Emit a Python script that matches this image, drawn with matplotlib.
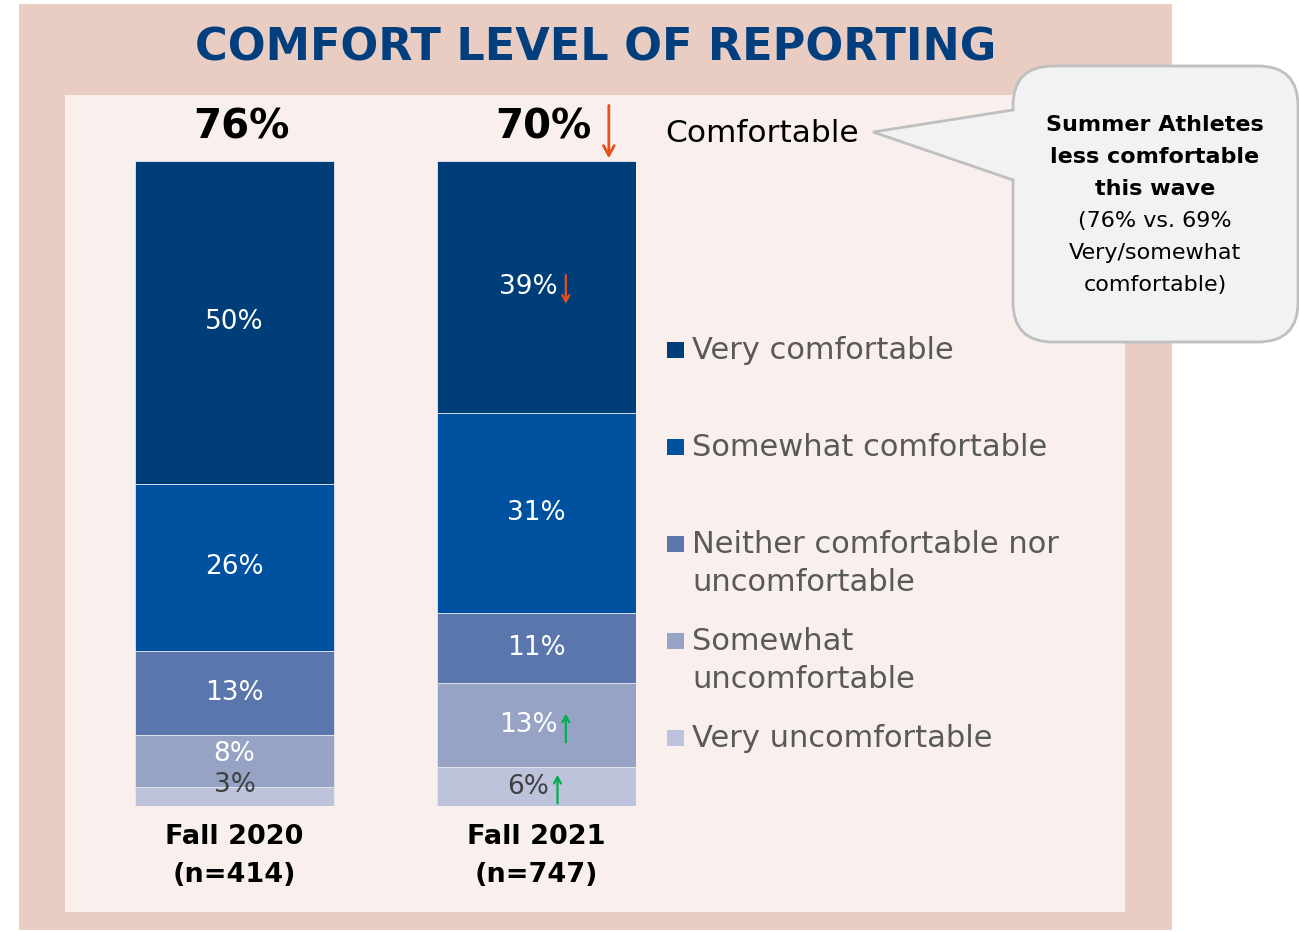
import numpy as np
import matplotlib.pyplot as plt
from matplotlib.patches import Rectangle, FancyBboxPatch, Polygon

# data
groups = ["Fall 2020\n(n=414)", "Fall 2021\n(n=747)"]
levels = ["Very comfortable", "Somewhat comfortable",
          "Neither comfortable nor\nuncomfortable",
          "Somewhat\nuncomfortable", "Very uncomfortable"]
very_comf = [50, 39]
some_comf = [26, 31]
neither = [13, 11]
some_uncomf = [8, 13]
very_uncomf = [3, 6]
comfortable_total = ["76%", "70%"]
# change markers per segment: 0 none, -1 down, 1 up (Fall 2021 only)
change_2021 = [-1, 0, 0, 1, 1]
total_change = [0, -1]

colors = ["#003E79", "#0051A0", "#5A76AC", "#96A3C5", "#BCC3DA"]
label_colors = ["white", "white", "white", "white", "#404040"]
down_col = "#E8501A"
up_col = "#00B050"

W, H = 1299, 932
fig = plt.figure(figsize=(W / 100, H / 100), dpi=100)
fig.patch.set_facecolor("white")

# background / decoration axes in pixel coords
bg = fig.add_axes([0, 0, 1, 1])
bg.set_xlim(0, W)
bg.set_ylim(H, 0)
bg.axis("off")
bg.add_patch(Rectangle((19, 4), 1153, 926, facecolor="#E9CCC2", edgecolor="none"))
bg.add_patch(Rectangle((65, 95), 1060, 817, facecolor="#F9F0ED", edgecolor="none"))
bg.text(596, 48, "COMFORT LEVEL OF REPORTING", ha="center", va="center",
        fontsize=32, fontweight="bold", color="#003E7E")

# callout
bg.add_patch(FancyBboxPatch((1013 + 40, 66 + 40), 285 - 80, 276 - 80,
                            boxstyle="round,pad=40", facecolor="#F2F2F2",
                            edgecolor="#BFBFBF", linewidth=2))
bg.add_patch(Polygon([(1016, 110), (873, 132), (1016, 180)], closed=True,
                     facecolor="#F2F2F2", edgecolor="none"))
bg.plot([1013, 873, 1013], [110, 132, 180], color="#BFBFBF", lw=2,
        solid_joinstyle="miter")
for k, (s, bold) in enumerate([("Summer Athletes", True), ("less comfortable", True),
                               ("this wave", True), ("(76% vs. 69%", False),
                               ("Very/somewhat", False), ("comfortable)", False)]):
    bg.text(1155, 125 + 32 * k, s, ha="center", va="center", fontsize=16,
            fontweight="bold" if bold else "normal", color="black")

bg.text(665, 134, "Comfortable", ha="left", va="center", fontsize=22.5, color="black")

# legend (manual)
for i, lab in enumerate(levels):
    yc = 350 + 97 * i
    bg.add_patch(Rectangle((667, yc - 8), 17, 16, facecolor=colors[i], edgecolor="none"))
    bg.text(692, yc - 14, lab, ha="left", va="top", fontsize=22, color="#595959",
            linespacing=1.4)

# bars
ax = fig.add_axes([135 / W, (H - 806) / H, (636 - 135) / W, 645 / H])
ax.patch.set_alpha(0)
half = 199 / 302 / 2
ax.set_xlim(-half, 1 + half)
ax.set_ylim(0, 100)
x = np.arange(len(groups))
series = [very_comf, some_comf, neither, some_uncomf, very_uncomf]
# stack from the bottom: very uncomfortable first
bottoms = np.zeros(len(groups))
seg_pos = {}
for j in range(len(series) - 1, -1, -1):
    vals = np.array(series[j])
    ax.bar(x, vals, width=2 * half, bottom=bottoms, color=colors[j],
           edgecolor="#E8E8EE", linewidth=0.6)
    seg_pos[j] = bottoms + vals / 2
    bottoms = bottoms + vals


def arrow(txt, mark, size, lw, top=1.05, bot=-0.05):
    # thin arrow next to a text, pointing down (mark<0) or up (mark>0)
    if mark > 0:
        top, bot = bot, top
    ax.annotate("", xy=(1, bot), xycoords=txt, xytext=(1, top), textcoords=txt,
                arrowprops=dict(arrowstyle=f"->,head_length={size},head_width={size * 0.55}",
                                color=down_col if mark < 0 else up_col, lw=lw,
                                shrinkA=0, shrinkB=0),
                annotation_clip=False)


label_shift = {(0, 3): 1.1, (0, 4): 1.7}
for i in range(len(groups)):
    for j in range(len(series)):
        y = seg_pos[j][i] + label_shift.get((i, j), 0)
        mark = change_2021[j] if i == 1 else 0
        dx = -6 if mark else 0
        t = ax.annotate(f"{series[j][i]}%", (x[i], y), xytext=(dx, 0),
                        textcoords="offset points", ha="center", va="center",
                        fontsize=19, color=label_colors[j])
        if mark:
            t2 = ax.annotate(" ", xy=(1, 0.5), xycoords=t, xytext=(0, 0),
                             textcoords="offset points", ha="left", va="center",
                             fontsize=19)
            arrow(t2, mark, 0.45, 1.6, top=0.95, bot=-0.15)
    t = ax.annotate(comfortable_total[i], (x[i], 100), xytext=(5, 24),
                    textcoords="offset points", ha="center", va="center",
                    fontsize=29, fontweight="bold", color="black",
                    annotation_clip=False)
    if total_change[i]:
        t2 = ax.annotate(" ", xy=(1, 0.5), xycoords=t, xytext=(1, -3),
                         textcoords="offset points", ha="left", va="center",
                         fontsize=36, annotation_clip=False)
        arrow(t2, total_change[i], 0.7, 2)

ax.set_xticks(x, groups, fontsize=19.5, fontweight="bold", linespacing=1.6)
ax.tick_params(axis="x", length=0, pad=13)
ax.set_yticks([])
for s in ax.spines.values():
    s.set_visible(False)

fig.savefig("out.png", dpi=100, facecolor="white")
